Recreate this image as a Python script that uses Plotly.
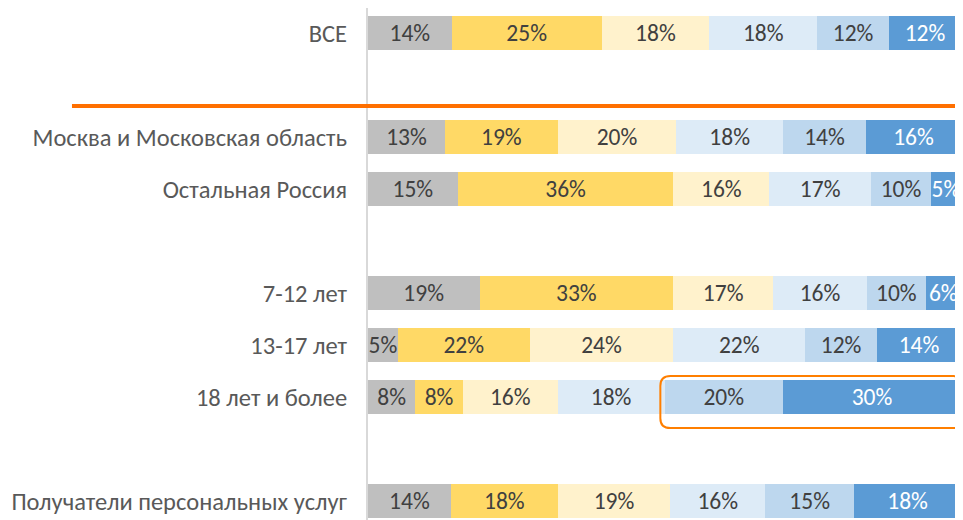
import plotly.graph_objects as go

row_labels = ["ВСЕ", " ", "Москва и Московская область", "Остальная Россия", "  ",
              "7-12 лет", "13-17 лет", "18 лет и более", "   ",
              "Получатели персональных услуг"]
s1 = [14, None, 13, 15, None, 19, 5, 8, None, 14]
s2 = [25, None, 19, 36, None, 33, 22, 8, None, 18]
s3 = [18, None, 20, 16, None, 17, 24, 16, None, 19]
s4 = [18, None, 18, 17, None, 16, 22, 18, None, 16]
s5 = [12, None, 14, 10, None, 10, 12, 20, None, 15]
s6 = [12, None, 16, 5, None, 6, 14, 30, None, 18]

series = [s1, s2, s3, s4, s5, s6]
colors = ["#BFBFBF", "#FFD966", "#FFF2CC", "#DDEBF7", "#BDD7EE", "#5B9BD5"]
text_colors = ["#404040", "#404040", "#404040", "#404040", "#404040", "#FFFFFF"]

FONT = "Calibri, Carlito, Liberation Sans, Arial, sans-serif"
FS = 23.5
LFS = 24.5

fig = go.Figure()
for vals, c, tc in zip(series, colors, text_colors):
    fig.add_trace(go.Bar(
        y=row_labels, x=vals, orientation="h",
        marker=dict(color=c, line=dict(width=0)),
        text=[f"{v}%" if v is not None else "" for v in vals],
        textposition="inside", insidetextanchor="middle", textangle=0,
        textfont=dict(family=FONT, size=FS, color=tc),
        hoverinfo="skip", showlegend=False,
    ))

y_top, y_bot = -0.481, 9.365
fig.update_layout(
    barmode="stack", barnorm="percent", bargap=0.346,
    width=955, height=512,
    margin=dict(l=360, r=2, t=0, b=0),
    plot_bgcolor="white", paper_bgcolor="white",
    uniformtext=dict(minsize=FS, mode="show"),
    xaxis=dict(range=[0, 100], visible=False, fixedrange=True),
    yaxis=dict(type="category", categoryorder="array", categoryarray=row_labels,
               range=[y_bot, y_top], showline=True, linecolor="#D9D9D9", linewidth=2,
               showgrid=False, ticks="", ticklabelstandoff=14,
               tickfont=dict(family=FONT, size=LFS, color="#595959"), fixedrange=True),
)

# separator line between total and the groups
def ypaper(v):
    return (y_bot - v) / (y_bot - y_top)

sep = 1.404
fig.add_shape(type="line", xref="paper", yref="paper",
              x0=-0.4992, x1=1.01, y0=ypaper(sep), y1=ypaper(sep),
              line=dict(color="#FF6F00", width=4), layer="above")

# rounded highlight around the last two segments of "18 лет и более"
r = 7
row = [s[r] for s in series]
tot = sum(row)
xa = sum(row[:4]) / tot * 100 - 0.7
xb = 100.4
half = (1 - 0.346) / 2
ya = r - half - 0.075
yb = r + half + 0.27
rx, ry = 1.7, 0.19
path = (f"M {xa+rx},{ya} L {xb-rx},{ya} Q {xb},{ya} {xb},{ya+ry} "
        f"L {xb},{yb-ry} Q {xb},{yb} {xb-rx},{yb} L {xa+rx},{yb} "
        f"Q {xa},{yb} {xa},{yb-ry} L {xa},{ya+ry} Q {xa},{ya} {xa+rx},{ya} Z")
fig.add_shape(type="path", xref="x", yref="y", path=path,
              line=dict(color="#FF7F00", width=2), layer="above")

fig.write_html("out.html")
